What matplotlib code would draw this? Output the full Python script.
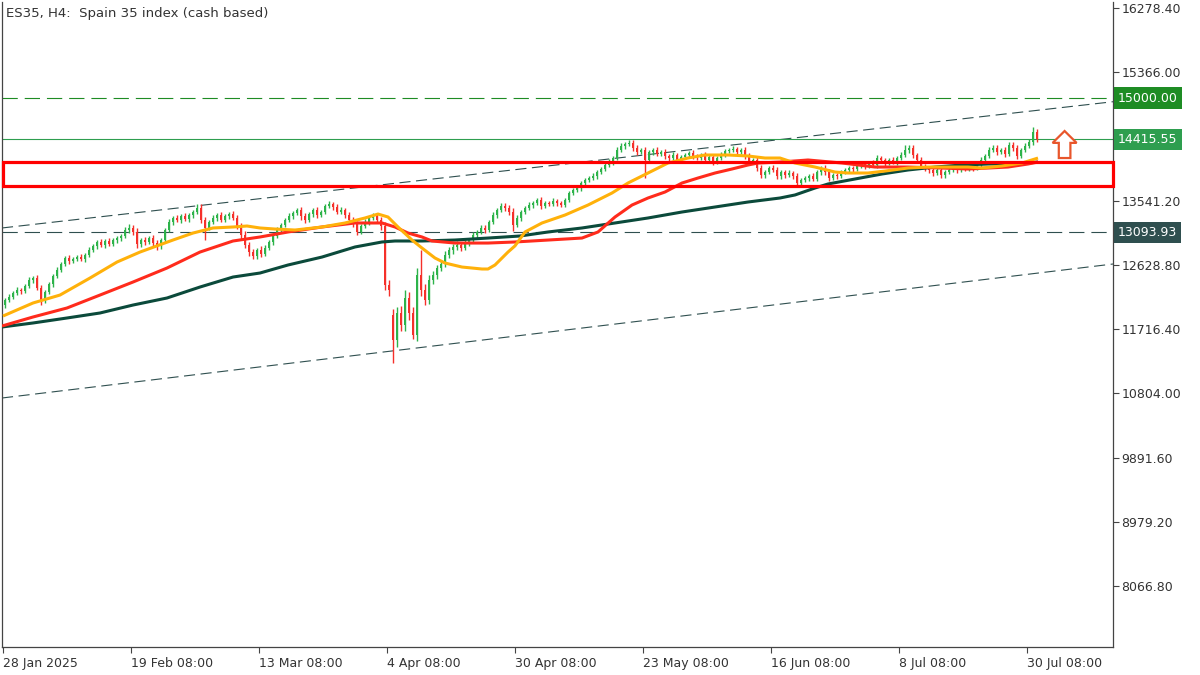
import matplotlib
matplotlib.use("Agg")
import matplotlib.pyplot as plt
import matplotlib.transforms as mtransforms
from matplotlib.patches import Rectangle, Polygon

plt.rcParams['font.family'] = ['DejaVu Sans']
plt.rcParams['lines.scale_dashes'] = False

title = "ES35, H4:  Spain 35 index (cash based)"

# ---- candle closes (one bar per step) ----
closes = [
    12130, 12173, 12230, 12272, 12258, 12329, 12415, 12443, 12301, 12130,
    12244, 12358, 12471, 12557, 12642, 12727, 12685, 12713, 12741, 12713,
    12770, 12841, 12898, 12955, 12912, 12969, 12926, 12983, 13011, 13040,
    13125, 13154, 13097, 12926, 12983, 12955, 13011, 12940, 12898, 12983,
    13125, 13239, 13296, 13267, 13324, 13281, 13338, 13381, 13438, 13267,
    13154, 13239, 13296, 13338, 13267, 13324, 13352, 13296, 13182, 13054,
    12912, 12812, 12756, 12841, 12784, 12869, 12955, 13040, 13125, 13196,
    13267, 13324, 13367, 13409, 13324, 13267, 13352, 13409, 13338, 13381,
    13466, 13495, 13452, 13381, 13409, 13338, 13267, 13210, 13097, 13182,
    13239, 13296, 13324, 13267, 13182, 12344, 12273, 11563, 11946, 11775,
    12159, 11946, 11634, 12486, 12273, 12130, 12415, 12486, 12585, 12642,
    12770, 12841, 12884, 12912, 12869, 12940, 12983, 13054, 13097, 13154,
    13125, 13239, 13338, 13409, 13466, 13438, 13381, 13196, 13296, 13381,
    13438, 13480, 13509, 13551, 13466, 13509, 13495, 13537, 13509, 13480,
    13551, 13651, 13694, 13722, 13793, 13836, 13864, 13892, 13949, 13992,
    14049, 14091, 14148, 14262, 14319, 14347, 14361, 14290, 14234, 14262,
    14120, 14234, 14262, 14205, 14234, 14177, 14148, 14191, 14120, 14162,
    14191, 14219, 14177, 14148, 14191, 14120, 14162, 14091, 14148, 14191,
    14248, 14262, 14276, 14234, 14262, 14177, 14091, 14120, 14006, 13907,
    13949, 14006, 13978, 13892, 13949, 13907, 13935, 13892, 13793, 13836,
    13864, 13892, 13850, 13949, 14006, 13949, 13864, 13907, 13892, 13949,
    13978, 14006, 13992, 14035, 14063, 14035, 14077, 14049, 14148, 14120,
    14077, 14120, 14091, 14148, 14191, 14262, 14290, 14191, 14120, 14035,
    14006, 13978, 13935, 13978, 13907, 13949, 13978, 14006, 13978, 14020,
    13992, 14035, 14006, 14049, 14120, 14177, 14262, 14290, 14234, 14262,
    14205, 14333, 14290, 14177, 14262, 14319, 14376, 14518, 14418,
]
first_open = 12060
open_overrides = {97: 11918}

# estimated wick lengths (index points above / below the body)
upper_wick = [
    30, 40, 30, 40, 35, 30, 40, 30, 45, 40,
    30, 35, 30, 40, 30, 35, 45, 30, 35, 40,
    30, 40, 35, 30, 45, 35, 40, 30, 35, 30,
    40, 50, 40, 60, 35, 40, 30, 45, 40, 35,
    30, 40, 35, 45, 30, 40, 35, 30, 40, 50,
    45, 35, 40, 30, 45, 35, 30, 40, 45, 40,
    50, 40, 45, 35, 50, 40, 35, 30, 40, 35,
    30, 40, 35, 30, 45, 40, 35, 30, 45, 35,
    30, 40, 35, 45, 40, 35, 45, 40, 50, 35,
    40, 35, 45, 40, 50, 60, 70, 80, 90, 100,
    110, 90, 80, 100, 60, 90, 70, 60, 50, 60,
    50, 45, 40, 50, 45, 40, 35, 40, 35, 40,
    45, 35, 40, 35, 40, 45, 40, 50, 40, 35,
    30, 40, 35, 30, 45, 35, 30, 40, 35, 30,
    30, 35, 30, 35, 30, 35, 30, 40, 30, 35,
    30, 40, 35, 45, 40, 30, 40, 45, 40, 35,
    40, 35, 30, 40, 35, 45, 30, 40, 35, 30,
    35, 30, 40, 35, 30, 40, 35, 30, 35, 40,
    35, 30, 40, 35, 30, 45, 40, 35, 40, 45,
    35, 30, 40, 45, 35, 30, 40, 35, 45, 30,
    35, 30, 40, 35, 30, 40, 45, 35, 30, 35,
    30, 35, 30, 40, 35, 30, 35, 40, 45, 35,
    30, 35, 40, 35, 40, 45, 40, 40, 35, 40,
    35, 30, 35, 40, 30, 35, 30, 35, 40, 30,
    35, 30, 35, 30, 40, 35, 45, 40, 45, 35,
    40, 45, 40, 50, 35, 40, 45, 50, 40,
]
lower_wick = [
    40, 30, 35, 30, 40, 35, 30, 40, 35, 45,
    35, 30, 40, 30, 35, 30, 40, 35, 30, 35,
    40, 30, 35, 40, 30, 40, 35, 30, 40, 35,
    35, 40, 45, 50, 40, 45, 35, 40, 50, 40,
    35, 30, 40, 35, 40, 30, 35, 40, 30, 45,
    40, 35, 30, 40, 35, 30, 40, 35, 45, 50,
    45, 50, 40, 45, 40, 35, 30, 40, 35, 30,
    35, 30, 40, 35, 50, 45, 30, 35, 40, 30,
    35, 30, 40, 35, 30, 40, 45, 40, 45, 30,
    35, 40, 30, 45, 50, 70, 90, 60, 100, 90,
    80, 100, 60, 90, 80, 70, 60, 50, 55, 45,
    45, 40, 50, 40, 45, 35, 40, 35, 40, 35,
    40, 35, 30, 40, 35, 40, 45, 50, 35, 40,
    35, 30, 40, 35, 40, 30, 35, 30, 40, 35,
    35, 30, 35, 30, 40, 30, 35, 30, 35, 30,
    35, 30, 40, 35, 30, 40, 35, 40, 45, 35,
    40, 35, 40, 30, 35, 40, 45, 35, 40, 35,
    30, 35, 40, 35, 30, 40, 35, 45, 35, 30,
    30, 35, 30, 40, 35, 40, 45, 35, 45, 40,
    40, 35, 30, 40, 35, 45, 30, 40, 45, 35,
    30, 40, 35, 30, 40, 45, 40, 35, 40, 30,
    35, 30, 40, 35, 30, 40, 35, 30, 40, 35,
    40, 35, 30, 40, 35, 30, 40, 45, 40, 45,
    40, 45, 40, 35, 45, 40, 35, 30, 40, 35,
    30, 35, 40, 35, 30, 40, 35, 30, 45, 35,
    40, 35, 45, 40, 35, 30, 35, 40, 45,
]
high_overrides = {48: 13495, 104: 12841, 156: 14404, 225: 14333, 257: 14589}
low_overrides = {9: 12060, 50: 12983, 88: 13054, 97: 11236, 102: 11600,
                 127: 13111, 160: 13864, 189: 13864, 198: 13750}

# ---- moving averages (bar position, value) ----
fast_ma_x = [-0.5, 7, 13.75, 21.25, 28, 33.75, 42, 47, 52, 57, 60.5, 63.75, 67.5,
             72.5, 79.25, 85, 90, 93.25, 95.75, 98.25, 101.75, 104.25, 107.5, 110,
             114.25, 119.25, 120.75, 122.5, 125.75, 127.5, 130, 134.25, 140, 145.75,
             151.75, 155.75, 160.75, 165.75, 170.75, 175, 180.75, 185.75, 190,
             193.75, 197.5, 202.5, 207.5, 210.75, 215.75, 220, 225.75, 230.75,
             235.75, 240.75, 244.25, 249.25, 254.25, 258.25]
fast_ma = [11903, 12088, 12201, 12443, 12670, 12812, 12983, 13082, 13154, 13168,
           13182, 13154, 13139, 13125, 13168, 13225, 13296, 13352, 13310, 13168,
           12983, 12869, 12727, 12656, 12599, 12571, 12571, 12628, 12812, 12900,
           13097, 13225, 13338, 13480, 13651, 13793, 13935, 14077, 14148, 14191,
           14191, 14177, 14148, 14148, 14077, 14020, 13949, 13935, 13935, 13963,
           14006, 14020, 14020, 14020, 14006, 14035, 14077, 14148]

mid_ma_x = [-0.75, 7, 15.5, 23.75, 32, 40.5, 48.75, 57, 63.75, 70.75, 79.25, 87.5,
            94.25, 97.5, 100.75, 104.25, 106.75, 112.5, 120.75, 127.5, 144.25,
            148.25, 152.5, 156.75, 160.75, 165, 169.25, 173.25, 177.5, 181.75,
            185.75, 188.25, 193.75, 200.75, 209.25, 217.5, 225.75, 234.25, 240.75,
            245.75, 250.75, 255.75, 258.25]
mid_ma = [11761, 11889, 12017, 12201, 12386, 12585, 12812, 12969, 13026, 13097,
          13168, 13225, 13225, 13168, 13082, 13026, 12969, 12940, 12940, 12955,
          13011, 13097, 13310, 13480, 13580, 13665, 13793, 13864, 13935, 13992,
          14049, 14077, 14091, 14120, 14077, 14020, 14020, 14006, 13992, 14006,
          14020, 14063, 14091]

slow_ma_x = [-0.75, 7, 15.5, 23.75, 32, 40.5, 48.75, 57, 63.75, 70.75, 79.25, 87.5,
             94.25, 97.5, 104.25, 112.5, 120.75, 128.75, 135.75, 144.25, 152.5,
             160.75, 169.25, 177.5, 185.75, 193.75, 197.5, 202.5, 205.75, 212.5,
             219.25, 225.75, 232.5, 239.25, 245.75, 250.75, 255.75, 258.25]
slow_ma = [11747, 11804, 11875, 11946, 12059, 12159, 12315, 12457, 12514, 12628,
           12741, 12884, 12955, 12969, 12969, 12983, 13011, 13040, 13097, 13154,
           13225, 13296, 13381, 13452, 13523, 13580, 13623, 13722, 13779, 13850,
           13921, 13978, 14020, 14049, 14063, 14063, 14077, 14091]

# ---- levels, zone, channel ----
level_target = 15000.00
level_bid = 14415.55
level_support = 13093.93
zone_top = 14091
zone_bottom = 13750
zone_x = [-0.5, 277]
upper_trend_x = [-0.75, 277]
upper_trend = [13154, 14948]
lower_trend_x = [-0.75, 277]
lower_trend = [10738, 12642]

price_ticks = [16278.40, 15366.00, 13541.20, 12628.80, 11716.40, 10804.00,
               9891.60, 8979.20, 8066.80]
time_ticks = [-0.5, 31.5, 63.5, 95.5, 127.5, 159.5, 191.5, 223.5, 255.5]
time_labels = ["28 Jan 2025", "19 Feb 08:00", "13 Mar 08:00", "4 Apr 08:00",
               "30 Apr 08:00", "23 May 08:00", "16 Jun 08:00", "8 Jul 08:00",
               "30 Jul 08:00"]

signal_x = 264.9
signal_bottom = 14148
signal_top = 14532

# ---- colours ----
UP = "#2DB34A"
DOWN = "#F5302A"
C_FAST = "#FFB10A"
C_MID = "#FF2B1C"
C_SLOW = "#0B4A3B"
C_DARK = "#2F4F4F"
C_TARGET = "#1E8C24"
C_BID = "#2E9E4F"
TXT = "#333333"

fig = plt.figure(figsize=(12, 6.75), dpi=100)
ax = fig.add_axes([2 / 1200, 28 / 675, 1111 / 1200, 645 / 675])
ax.set_xlim(-0.75, 277)
ax.set_ylim(7200, 16365)

n = len(closes)
idx = list(range(n))
opens = [first_open] + closes[:-1]
for k, v in open_overrides.items():
    opens[k] = v
highs = [max(o, c) + u for o, c, u in zip(opens, closes, upper_wick)]
lows = [min(o, c) - d for o, c, d in zip(opens, closes, lower_wick)]
for k, v in high_overrides.items():
    highs[k] = max(highs[k], v)
for k, v in low_overrides.items():
    lows[k] = min(lows[k], v)
colors = [UP if c >= o else DOWN for o, c in zip(opens, closes)]
body_bottom = [min(o, c) for o, c in zip(opens, closes)]
body_h = [max(abs(c - o), 14) for o, c in zip(opens, closes)]

# channel & levels (behind)
ax.plot(upper_trend_x, upper_trend, color=C_DARK, lw=0.8, ls=(0, (8, 4)), zorder=1)
ax.plot(lower_trend_x, lower_trend, color=C_DARK, lw=0.8, ls=(0, (8, 4)), zorder=1)
ax.axhline(level_target, color=C_TARGET, lw=0.8, ls=(0, (11, 5)), zorder=1)
ax.axhline(level_support, color=C_DARK, lw=0.8, ls=(0, (11, 5)), zorder=1)
ax.axhline(level_bid, color=C_BID, lw=0.8, zorder=1)

# candles
ax.vlines(idx, lows, highs, colors=colors, lw=1.0, zorder=2)
ax.bar(idx, body_h, bottom=body_bottom, width=0.68, color=colors, linewidth=0, zorder=2)

# moving averages
ax.plot(slow_ma_x, slow_ma, color=C_SLOW, lw=2.2, zorder=3, solid_capstyle='butt')
ax.plot(mid_ma_x, mid_ma, color=C_MID, lw=2.2, zorder=3, solid_capstyle='butt')
ax.plot(fast_ma_x, fast_ma, color=C_FAST, lw=2.2, zorder=3, solid_capstyle='butt')

# zone rectangle
ax.add_patch(Rectangle((zone_x[0], zone_bottom), zone_x[1] - zone_x[0],
                       zone_top - zone_bottom, fill=False, ec="#FF0000",
                       lw=2.3, zorder=4, clip_on=False))

# signal arrow
hw, sw = 3.0, 1.45
head_base = signal_bottom + (signal_top - signal_bottom) * 0.56
arrow_pts = [(signal_x, signal_top), (signal_x - hw, head_base), (signal_x - sw, head_base),
             (signal_x - sw, signal_bottom), (signal_x + sw, signal_bottom),
             (signal_x + sw, head_base), (signal_x + hw, head_base)]
ax.add_patch(Polygon(arrow_pts, closed=True, fc="white", ec="#E8562C", lw=1.6, zorder=5))

# axes styling
ax.spines["top"].set_visible(False)
for s in ["left", "bottom", "right"]:
    ax.spines[s].set_color("#444444")
    ax.spines[s].set_linewidth(0.9)
ax.yaxis.tick_right()
ax.set_yticks(price_ticks)
ax.set_yticklabels([f"{v:.2f}" for v in price_ticks])
ax.tick_params(axis='y', direction='out', length=4, width=0.8, colors="#444444",
               labelcolor=TXT, labelsize=9, pad=2)
ax.set_xticks(time_ticks)
ax.set_xticklabels(time_labels)
ax.tick_params(axis='x', direction='out', length=4, width=0.8, colors="#444444",
               labelcolor=TXT, labelsize=9, pad=3)
for lab in ax.get_xticklabels():
    lab.set_horizontalalignment('left')

# price boxes on the right axis
trans = mtransforms.blended_transform_factory(ax.transAxes, ax.transData)
for val, col in [(level_target, C_TARGET), (level_bid, C_BID), (level_support, C_DARK)]:
    ax.text(1.0045, val, f"{val:.2f}", transform=trans, ha='left', va='center',
            color='white', fontsize=9, zorder=6,
            bbox=dict(boxstyle='square,pad=0.33', fc=col, ec='none'))

fig.text(6 / 1200, 1 - 13 / 675, title, ha='left', va='center', fontsize=9.5, color=TXT)

fig.savefig("out.png", dpi=100, facecolor="white")
